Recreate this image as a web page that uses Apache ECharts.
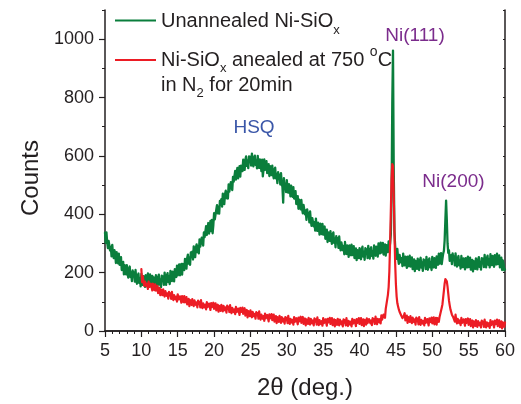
<!DOCTYPE html>
<html>
<head>
<meta charset="utf-8">
<script src="https://cdn.jsdelivr.net/npm/echarts@6/dist/echarts.min.js"></script>
<style>
  html, body { margin: 0; padding: 0; background: #ffffff; }
  #chart { width: 521px; height: 404px; }
</style>
</head>
<body>
<div id="chart"></div>
<script>
// Tick values for both axes
const angleTicks = [5, 10, 15, 20, 25, 30, 35, 40, 45, 50, 55, 60];
const countTicks = [0, 200, 400, 600, 800, 1000];

// Both scans are sampled every 0.1 deg in 2θ
const scanStep = 0.1;

// As-deposited film, 2θ = 5.0 ... 60.0 deg (one row per degree)
const unannealedStart = 5;
const unannealedCounts = [
  337,302,338,304,284,309,312,276,288,256,
  295,262,250,277,265,233,270,245,232,265,
  227,242,253,209,221,237,194,226,215,194,
  226,197,183,214,221,185,200,171,208,189,
  201,169,209,178,162,190,197,165,181,153,
  196,166,158,188,180,151,191,170,160,197,
  162,180,194,154,169,189,149,184,175,157,
  191,164,152,184,193,159,177,150,190,174,
  187,158,200,172,158,189,198,168,187,161,
  206,178,171,203,196,170,212,193,185,224,
  191,212,228,191,208,230,193,230,225,209,
  247,223,214,250,262,231,251,227,269,255,
  272,245,290,264,253,286,297,270,290,266,
  314,289,285,320,316,293,338,322,317,359,
  329,351,370,334,354,377,342,381,335,364,
  404,383,377,416,431,403,425,402,446,434,
  452,426,471,446,435,469,481,455,476,454,
  502,478,474,510,506,483,528,512,507,549,
  519,541,559,523,542,565,529,567,563,548,
  587,562,552,587,598,566,585,558,598,583,
  597,567,608,579,564,594,601,569,585,557,
  600,569,559,588,578,548,587,530,553,588,
  552,569,582,541,555,572,531,565,555,534,
  567,537,523,553,560,523,538,507,544,524,
  535,502,541,509,492,440,524,491,505,476,
  517,485,474,503,492,461,498,473,460,493,
  454,468,479,435,447,462,419,450,439,417,
  449,418,403,432,438,400,413,381,417,396,
  405,372,410,378,360,387,392,359,373,344,
  385,353,343,371,361,330,368,345,332,367,
  330,346,358,316,330,347,305,338,329,309,
  342,313,299,331,338,302,317,287,325,306,
  317,285,324,293,276,304,310,277,292,263,
  305,274,264,293,283,254,293,271,260,296,
  260,277,291,250,265,283,243,277,269,250,
  284,257,246,279,289,255,272,244,284,267,
  280,250,292,263,248,279,287,257,274,248,
  293,265,258,289,282,255,300,275,266,303,
  269,287,302,262,278,297,258,294,287,270,
  307,282,300,330,450,780,961,560,340,290,
  287,247,281,248,230,261,267,235,250,222,
  265,235,225,255,246,216,255,233,222,258,
  221,239,252,212,226,245,205,240,231,213,
  248,221,209,242,251,217,234,206,245,228,
  242,212,254,225,210,241,249,218,236,209,
  254,226,218,250,243,216,256,236,227,265,
  231,251,267,229,248,265,275,310,380,447,
  380,300,268,276,240,246,260,229,266,247,
  256,225,266,236,221,249,257,225,242,214,
  257,228,219,249,240,211,250,229,218,255,
  219,237,251,210,225,244,204,239,231,213,
  249,222,211,244,253,220,237,210,250,234,
  248,219,261,232,218,249,258,227,245,218,
  263,234,226,257,249,220,260,239,228,265,
  229,246,259,218,232,251,209,242,230,208,
  212
];

// After the 750 °C anneal in N2, 2θ = 10.0 ... 60.0 deg
const annealedStart = 10;
const annealedCounts = [
  212,167,188,167,155,169,173,153,162,144,
  169,151,145,162,157,139,162,147,140,160,
  138,148,155,130,138,148,123,142,136,123,
  143,126,118,137,141,120,129,111,134,122,
  129,110,134,116,106,123,127,108,118,101,
  126,108,102,119,115,97,120,106,99,120,
  98,108,116,91,100,110,85,106,100,89,
  109,93,85,105,109,89,98,81,104,93,
  100,81,106,87,78,95,99,81,90,74,
  99,82,76,94,89,72,96,82,76,97,
  76,87,95,71,79,90,66,86,81,69,
  90,74,67,86,91,71,81,63,87,76,
  83,65,89,71,61,79,83,65,74,58,
  83,65,60,77,73,55,79,65,59,80,
  59,69,78,53,62,72,47,68,62,51,
  71,54,47,66,71,50,59,42,65,54,
  61,42,67,48,39,56,60,42,51,35,
  60,43,37,55,50,33,57,43,37,58,
  37,48,56,32,41,51,27,48,42,31,
  52,36,28,48,53,32,42,25,48,37,
  45,27,52,33,24,42,47,29,38,22,
  48,31,26,44,40,23,46,33,27,49,
  28,39,48,24,33,43,19,40,35,24,
  45,29,22,42,47,26,36,19,43,32,
  40,22,47,29,20,37,42,24,34,18,
  44,27,22,40,36,18,42,29,23,45,
  24,35,44,20,29,40,16,37,32,21,
  42,26,19,39,44,23,33,16,40,29,
  37,19,44,26,17,35,40,22,32,16,
  42,25,20,38,34,17,41,28,22,44,
  24,35,44,20,29,40,17,38,33,22,
  43,27,21,41,46,26,36,20,44,33,
  41,24,49,31,23,42,47,30,41,26,
  54,39,36,56,56,45,76,73,82,124,
  150,205,300,410,520,572,565,470,340,230,
  160,118,95,84,74,66,70,55,60,44,
  43,53,61,36,44,53,28,48,43,31,
  51,34,27,46,51,30,40,22,46,34,
  42,23,48,30,21,38,43,25,35,19,
  45,28,23,41,37,19,43,30,24,46,
  26,37,47,23,33,45,22,44,40,31,
  48,58,62,80,92,115,138,162,178,183,
  170,152,128,104,88,74,70,56,58,46,
  52,32,56,36,26,42,46,27,36,20,
  45,28,22,40,35,18,41,28,22,43,
  21,32,41,17,26,36,12,33,28,17,
  37,21,14,34,39,19,29,12,36,25,
  32,14,39,21,12,30,35,17,27,11,
  37,20,15,33,29,12,36,23,17,39,
  17,28,37,13,22,33,9,30,25,14,
  30
];

// [2θ, counts] pairs on the 0.1 deg sampling grid
function toPairs(start, counts) {
  return counts.map(function (c, i) {
    return [Math.round((start + i * scanStep) * 100) / 100, c];
  });
}

const INK = '#231f20';
const GREEN = '#0a7e3c';
const RED = '#ec1c24';
const PURPLE = '#7b2c8c';
const BLUE = '#3a56a8';
const FONT = '"Liberation Sans", Arial, Helvetica, sans-serif';

// Width of a text run, used to lay out sub/superscripts side by side
const measureCtx = document.createElement('canvas').getContext('2d');
function textWidth(str, size) {
  measureCtx.font = size + 'px ' + FONT;
  return measureCtx.measureText(str).width;
}

function textEl(x, y, text, size, color, align, extra) {
  return Object.assign({
    type: 'text', x: x, y: y, silent: true,
    style: {
      text: text, fontSize: size, fontFamily: FONT, fill: color,
      align: align || 'left', textAlign: align || 'left',
      verticalAlign: 'middle', textVerticalAlign: 'middle'
    }
  }, extra || {});
}

// A line of text made of runs: [text, fontSize, verticalShift]
function richLine(x, y, runs, color) {
  const els = [];
  let cx = x;
  runs.forEach(function (r) {
    els.push(textEl(cx, y + r[2], r[0], r[1], color));
    cx += textWidth(r[0], r[1]);
  });
  return els;
}

const graphics = [];
// legend swatches
graphics.push({ type: 'line', silent: true, shape: { x1: 115, y1: 20.5, x2: 156, y2: 20.5 }, style: { stroke: GREEN, lineWidth: 2 } });
graphics.push({ type: 'line', silent: true, shape: { x1: 115, y1: 60, x2: 156, y2: 60 }, style: { stroke: RED, lineWidth: 2 } });
// legend texts
richLine(161, 21.5, [['Unannealed Ni-SiO', 20, 0], ['x', 13, 8.5]], INK).forEach(e => graphics.push(e));
richLine(161, 60, [['Ni-SiO', 20, 0], ['x', 13, 8.5], [' anealed at 750 ', 20, 0], ['o', 14, -8], ['C', 20, 0]], INK).forEach(e => graphics.push(e));
richLine(161, 85, [['in N', 20, 0], ['2', 13, 8.5], [' for 20min', 20, 0]], INK).forEach(e => graphics.push(e));
// peak annotations
graphics.push(textEl(254, 128, 'HSQ', 19, BLUE, 'center'));
graphics.push(textEl(415, 36, 'Ni(111)', 19, PURPLE, 'center'));
graphics.push(textEl(453.5, 182, 'Ni(200)', 19, PURPLE, 'center'));
// axis titles
graphics.push(textEl(31, 178, 'Counts', 24, INK, 'center', { rotation: Math.PI / 2 }));
graphics.push(textEl(305, 388, '2\u03b8 (deg.)', 24, INK, 'center'));

const axisLine = { show: true, lineStyle: { color: INK, width: 1.5 } };
const plain = function (v) { return String(v); };

const option = {
  animation: false,
  backgroundColor: '#ffffff',
  grid: { left: 105, right: 16, top: 10, bottom: 73, containLabel: false },
  xAxis: [
    {
      type: 'value', min: 5, max: 60, interval: 5, position: 'bottom',
      axisLine: axisLine,
      axisTick: { show: true, inside: false, length: 6, lineStyle: { color: INK, width: 1.2 } },
      minorTick: { show: true, splitNumber: 5, length: 3, lineStyle: { color: INK, width: 1 } },
      axisLabel: { customValues: angleTicks, formatter: plain, margin: 11, fontSize: 18, fontFamily: FONT, color: INK },
      splitLine: { show: false }, minorSplitLine: { show: false }
    },
    {
      type: 'value', min: 5, max: 60, interval: 5, position: 'top',
      axisLine: axisLine,
      axisTick: { show: true, inside: true, length: 3, lineStyle: { color: INK, width: 1 } },
      minorTick: { show: true, splitNumber: 5, length: 2, lineStyle: { color: INK, width: 1 } },
      axisLabel: { show: false }, splitLine: { show: false }
    }
  ],
  yAxis: [
    {
      type: 'value', min: 0, max: 1100, interval: 200, position: 'left',
      axisLine: axisLine,
      axisTick: { show: true, customValues: countTicks, inside: false, length: 6, lineStyle: { color: INK, width: 1.2 } },
      axisLabel: { customValues: countTicks, formatter: plain, margin: 11, fontSize: 18, fontFamily: FONT, color: INK },
      splitLine: { show: false }
    },
    {
      type: 'value', min: 0, max: 1100, interval: 100, position: 'left',
      axisLine: { show: false },
      axisTick: { show: true, inside: false, length: 3, lineStyle: { color: INK, width: 1 } },
      axisLabel: { show: false }, splitLine: { show: false }
    },
    {
      type: 'value', min: 0, max: 1100, interval: 100, position: 'right',
      axisLine: axisLine,
      axisTick: { show: true, inside: true, length: 2, lineStyle: { color: INK, width: 1 } },
      axisLabel: { show: false }, splitLine: { show: false }
    }
  ],
  series: [
    {
      name: 'Unannealed Ni-SiOx', type: 'line', data: toPairs(unannealedStart, unannealedCounts),
      xAxisIndex: 0, yAxisIndex: 0, symbol: 'none', showSymbol: false, z: 2,
      lineStyle: { color: GREEN, width: 2.3, join: 'round', cap: 'round' }
    },
    {
      name: 'Ni-SiOx anealed at 750 °C in N2 for 20min', type: 'line', data: toPairs(annealedStart, annealedCounts),
      xAxisIndex: 0, yAxisIndex: 0, symbol: 'none', showSymbol: false, z: 3,
      lineStyle: { color: RED, width: 2.2, join: 'round', cap: 'round' }
    }
  ],
  graphic: graphics
};

const chart = echarts.init(document.getElementById('chart'), null, { renderer: 'canvas' });
chart.setOption(option);
</script>
</body>
</html>
